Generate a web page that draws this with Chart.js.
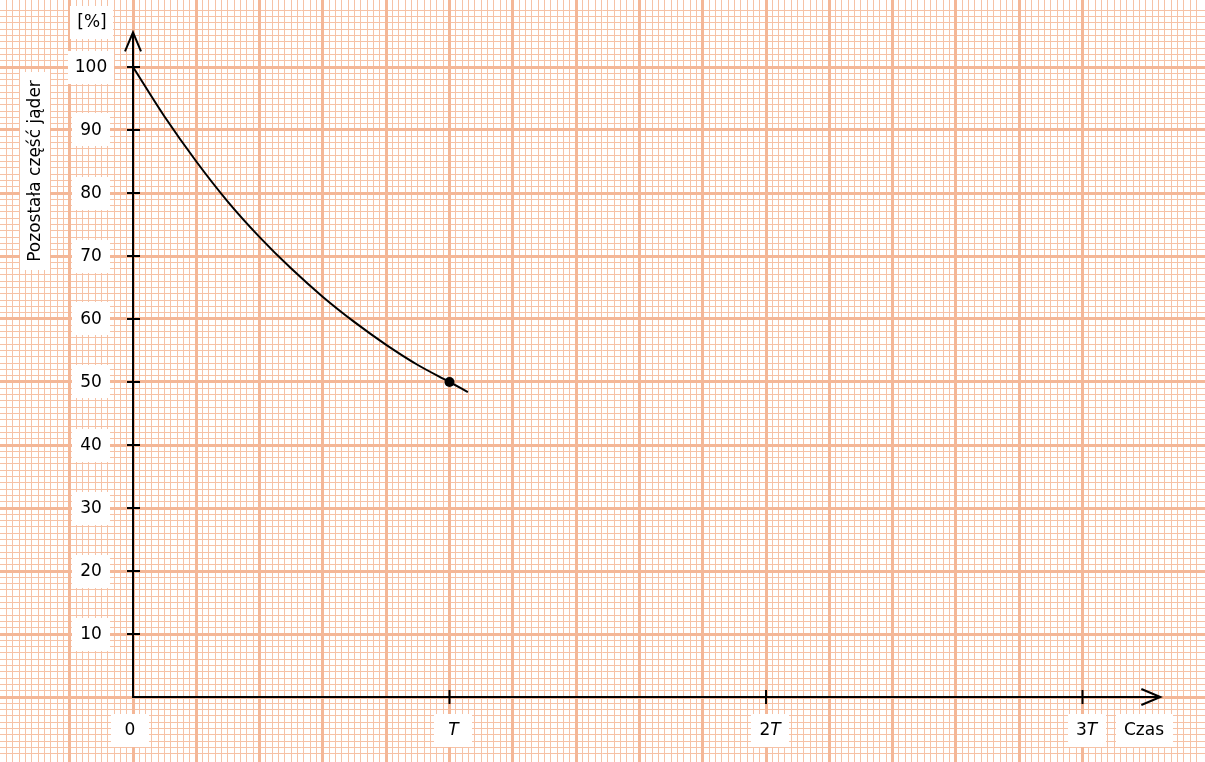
<!DOCTYPE html>
<html>
<head>
<meta charset="utf-8">
<script src="https://cdn.jsdelivr.net/npm/chart.js@4/dist/chart.umd.min.js"></script>
<style>
  html, body { margin:0; padding:0; background:#fff; }
  #wrap { width:1205px; height:762px; position:relative; }
</style>
</head>
<body>
<div id="wrap"><canvas id="chart"></canvas></div>
<script>
// time in units of T, remaining share in %
const timeValues = [0, 0.1, 0.2, 0.3, 0.4, 0.5, 0.6, 0.7, 0.8, 0.9, 1.0, 1.058];
const shareValues = [100, 92.1, 85.0, 78.6, 73.0, 68.0, 63.5, 59.5, 55.9, 52.7, 50, 48.4];
const markedPoint = [{ x: 1, y: 50 }];

const yTicks = [10, 20, 30, 40, 50, 60, 70, 80, 90, 100];
const xTicks = [0, 1, 2, 3];
const xTickLabels = [['0', ''], ['', 'T'], ['2', 'T'], ['3', 'T']];

const yTitle = 'Pozostała część jąder';
const yUnit = '[%]';
const xTitle = 'Czas';

const FONT = '17px "DejaVu Sans", sans-serif';
const FONT_IT = 'italic 17px "DejaVu Sans", sans-serif';
const MAJOR = '#f4b797';
const MINOR = '#f6c2a6';

// keep only ticks that fall on the step (drop the min/max edge ticks)
function onStep(step) {
  return scale => {
    scale.ticks = scale.ticks.filter(t => Math.abs(t.value / step - Math.round(t.value / step)) < 1e-6);
  };
}

function gridScale(axis, min, max, step, color, width, z) {
  return {
    type: 'linear', axis, min, max, position: axis === 'x' ? 'bottom' : 'left',
    ticks: { display: false, stepSize: step },
    grid: { color, lineWidth: width, drawTicks: false, z },
    border: { display: false },
    afterBuildTicks: onStep(step)
  };
}

function whiteBox(ctx, cx, cy, w, h) {
  ctx.fillStyle = '#fff';
  ctx.fillRect(Math.round(cx - w / 2), Math.round(cy - h / 2), Math.round(w), Math.round(h));
}

function drawParts(ctx, parts, cx, cy) {
  // parts: [regular, italic]
  ctx.font = FONT; const w1 = ctx.measureText(parts[0]).width;
  ctx.font = FONT_IT; const w2 = ctx.measureText(parts[1]).width;
  const total = w1 + w2;
  whiteBox(ctx, cx, cy, Math.max(38, total + 14), 33);
  ctx.fillStyle = '#000';
  ctx.textBaseline = 'middle'; ctx.textAlign = 'left';
  ctx.font = FONT; ctx.fillText(parts[0], cx - total / 2, cy + 1);
  ctx.font = FONT_IT; ctx.fillText(parts[1], cx - total / 2 + w1, cy + 1);
}

function drawLabel(ctx, text, cx, cy, minW) {
  ctx.font = FONT;
  const w = ctx.measureText(text).width;
  whiteBox(ctx, cx, cy, Math.max(minW || 38, w + 14), 33);
  ctx.fillStyle = '#000';
  ctx.textAlign = 'center'; ctx.textBaseline = 'middle';
  ctx.fillText(text, cx, cy + 1);
}

const axesPlugin = {
  id: 'axesPlugin',
  beforeDatasetsDraw(chart) {
    const { ctx } = chart;
    const xs = chart.scales.x, ys = chart.scales.y;
    const x0 = xs.getPixelForValue(0), y0 = ys.getPixelForValue(0);
    const yTop = ys.getPixelForValue(105.5);
    const xEnd = xs.getPixelForValue(3.246);
    ctx.save();

    // labels on white boxes
    yTicks.forEach(v => drawLabel(ctx, String(v), 91, ys.getPixelForValue(v)));
    drawLabel(ctx, yUnit, 92, 22);
    xTicks.forEach((v, i) => drawParts(ctx, xTickLabels[i], xs.getPixelForValue(v) + (v === 0 ? -3 : 4), 730));
    drawLabel(ctx, xTitle, 1144, 730, 57);

    ctx.save();
    ctx.translate(35, 171);
    ctx.rotate(-Math.PI / 2);
    ctx.font = FONT;
    const tw = ctx.measureText(yTitle).width;
    whiteBox(ctx, 0, 0, tw + 16, 30);
    ctx.fillStyle = '#000'; ctx.textAlign = 'center'; ctx.textBaseline = 'middle';
    ctx.fillText(yTitle, 0, 1);
    ctx.restore();

    // axes
    ctx.strokeStyle = '#000'; ctx.lineWidth = 2; ctx.lineCap = 'butt';
    ctx.beginPath();
    ctx.moveTo(x0, y0); ctx.lineTo(x0, yTop);
    ctx.moveTo(x0 - 1, y0); ctx.lineTo(xEnd, y0);
    ctx.stroke();

    // arrow heads
    ctx.lineWidth = 2; ctx.lineJoin = 'miter';
    ctx.beginPath();
    ctx.moveTo(x0 - 8, yTop + 19); ctx.lineTo(x0, yTop); ctx.lineTo(x0 + 8, yTop + 19);
    ctx.moveTo(xEnd - 19, y0 - 8); ctx.lineTo(xEnd, y0); ctx.lineTo(xEnd - 19, y0 + 8);
    ctx.stroke();

    // tick marks
    ctx.beginPath();
    yTicks.forEach(v => { const p = ys.getPixelForValue(v); ctx.moveTo(x0 - 6, p); ctx.lineTo(x0 + 7, p); });
    xTicks.slice(1).forEach(v => { const p = xs.getPixelForValue(v); ctx.moveTo(p, y0 - 7); ctx.lineTo(p, y0 + 7); });
    ctx.stroke();
    ctx.restore();
  }
};

const X_MIN = -133 / 316.5, X_MAX = 1072 / 316.5;
const Y_MIN = -65 / 6.3, Y_MAX = 697 / 6.3;

new Chart(document.getElementById('chart'), {
  type: 'scatter',
  data: {
    datasets: [
      { data: timeValues.map((t, i) => ({ x: t, y: shareValues[i] })), showLine: true, borderColor: '#000',
        borderWidth: 2, pointRadius: 0, cubicInterpolationMode: 'monotone' },
      { data: markedPoint, pointRadius: 5, pointBackgroundColor: '#000', pointBorderWidth: 0, showLine: false }
    ]
  },
  options: {
    responsive: true, maintainAspectRatio: false, animation: false,
    layout: { padding: 0, autoPadding: false },
    plugins: { legend: { display: false }, tooltip: { enabled: false } },
    scales: {
      xMinor: gridScale('x', X_MIN, X_MAX, 0.02, MINOR, 1, -3),
      yMinor: gridScale('y', Y_MIN, Y_MAX, 1, MINOR, 1, -3),
      x: gridScale('x', X_MIN, X_MAX, 0.2, MAJOR, 3, -2),
      y: gridScale('y', Y_MIN, Y_MAX, 10, MAJOR, 3, -2)
    }
  },
  plugins: [axesPlugin]
});
</script>
</body>
</html>
